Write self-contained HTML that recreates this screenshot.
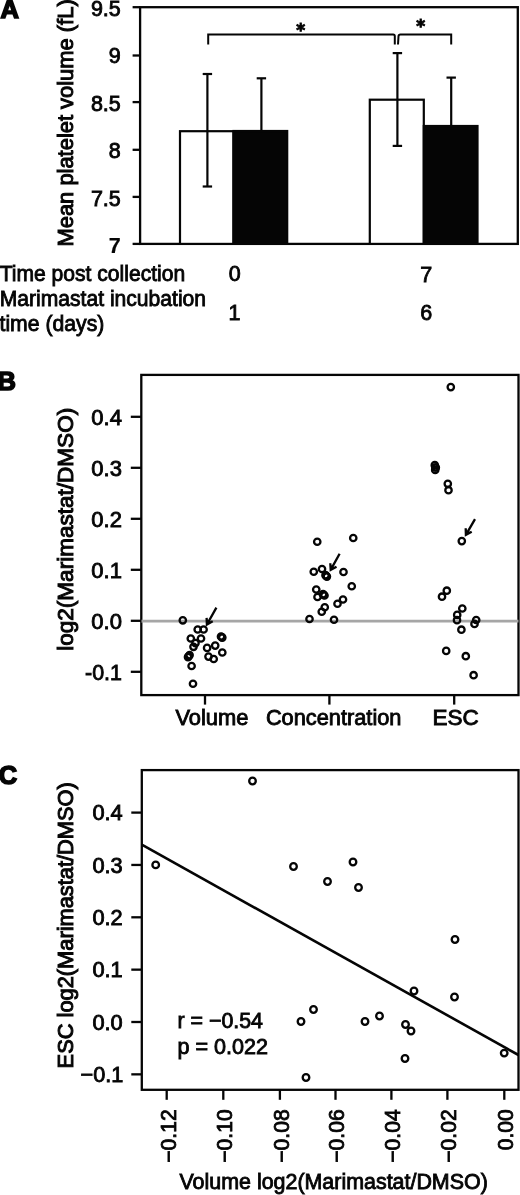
<!DOCTYPE html>
<html><head><meta charset="utf-8"><title>Figure</title>
<style>
html,body{margin:0;padding:0;background:#fff;}
svg{display:block;}
text{font-family:"Liberation Sans",sans-serif;fill:#050505;stroke:#050505;stroke-width:0.85;}
.ln{stroke:#050505;fill:none;}
.pt{stroke:#050505;fill:none;stroke-width:2.3;}
</style></head><body>
<svg width="520" height="1195" viewBox="0 0 520 1195">
<rect x="0" y="0" width="520" height="1195" fill="#fff"/>

<!-- Panel A -->
<text x="0.5" y="18.0" font-size="25.5" text-anchor="start" font-weight="bold" style="stroke-width:1.6">A</text>
<rect x="140.1" y="7.2" width="377.69999999999993" height="236.70000000000002" class="ln" stroke-width="2.3"/>
<line x1="132.6" y1="7.2" x2="140.1" y2="7.2" stroke="#050505" stroke-width="2.3"/>
<text x="120.8" y="15.7" font-size="21.5" text-anchor="end">9.5</text>
<line x1="132.6" y1="55.5" x2="140.1" y2="55.5" stroke="#050505" stroke-width="2.3"/>
<text x="120.8" y="63.1" font-size="21.5" text-anchor="end">9</text>
<line x1="132.6" y1="102.1" x2="140.1" y2="102.1" stroke="#050505" stroke-width="2.3"/>
<text x="120.8" y="111" font-size="21.5" text-anchor="end">8.5</text>
<line x1="132.6" y1="149.8" x2="140.1" y2="149.8" stroke="#050505" stroke-width="2.3"/>
<text x="120.8" y="157.8" font-size="21.5" text-anchor="end">8</text>
<line x1="132.6" y1="196.9" x2="140.1" y2="196.9" stroke="#050505" stroke-width="2.3"/>
<text x="120.8" y="205.7" font-size="21.5" text-anchor="end">7.5</text>
<line x1="132.6" y1="243.9" x2="140.1" y2="243.9" stroke="#050505" stroke-width="2.3"/>
<text x="120.8" y="252.6" font-size="21.5" text-anchor="end" font-weight="bold" style="stroke-width:0.2">7</text>
<text x="73.4" y="246.5" font-size="21.8" text-anchor="start" transform="rotate(-90 73.4 246.5)" textLength="247.2" lengthAdjust="spacingAndGlyphs" style="stroke-width:1.0">Mean platelet volume (fL)</text>
<line x1="261.4" y1="78.3" x2="261.4" y2="180" stroke="#050505" stroke-width="2.2"/>
<line x1="256.7" y1="78.3" x2="266.09999999999997" y2="78.3" stroke="#050505" stroke-width="2.2"/>
<line x1="256.7" y1="180" x2="266.09999999999997" y2="180" stroke="#050505" stroke-width="2.2"/>
<line x1="451.2" y1="77.6" x2="451.2" y2="170" stroke="#050505" stroke-width="2.2"/>
<line x1="446.5" y1="77.6" x2="455.9" y2="77.6" stroke="#050505" stroke-width="2.2"/>
<line x1="446.5" y1="170" x2="455.9" y2="170" stroke="#050505" stroke-width="2.2"/>
<rect x="180" y="131.2" width="53.5" height="112.70000000000002" fill="#fff" stroke="#050505" stroke-width="2.2"/>
<rect x="233.5" y="131" width="53.69999999999999" height="112.9" fill="#050505" stroke="#050505" stroke-width="2.2"/>
<rect x="369.8" y="99.7" width="54.0" height="144.2" fill="#fff" stroke="#050505" stroke-width="2.2"/>
<rect x="423.8" y="126" width="53.69999999999999" height="117.9" fill="#050505" stroke="#050505" stroke-width="2.2"/>
<line x1="207.4" y1="74.0" x2="207.4" y2="186.5" stroke="#050505" stroke-width="2.2"/>
<line x1="202.70000000000002" y1="74.0" x2="212.1" y2="74.0" stroke="#050505" stroke-width="2.2"/>
<line x1="202.70000000000002" y1="186.5" x2="212.1" y2="186.5" stroke="#050505" stroke-width="2.2"/>
<line x1="397.4" y1="53.1" x2="397.4" y2="145.9" stroke="#050505" stroke-width="2.2"/>
<line x1="392.7" y1="53.1" x2="402.09999999999997" y2="53.1" stroke="#050505" stroke-width="2.2"/>
<line x1="392.7" y1="145.9" x2="402.09999999999997" y2="145.9" stroke="#050505" stroke-width="2.2"/>
<path class="ln" stroke-width="2" d="M208.2 44.5 V34.4 H393.2 Q394.8 34.4 394.8 36 V44.5"/>
<path class="ln" stroke-width="2" d="M398 44.5 L398.5 36.2 Q398.6 34.4 400.4 34.4 H451.2 V44.5"/>
<text x="300.6" y="36.0" font-size="17" text-anchor="middle" font-weight="bold" style="font-family:'DejaVu Sans',sans-serif;stroke-width:0.9">*</text>
<text x="420.7" y="32.2" font-size="17" text-anchor="middle" font-weight="bold" style="font-family:'DejaVu Sans',sans-serif;stroke-width:0.9">*</text>
<text x="-0.3" y="280.7" font-size="21.3" text-anchor="start" textLength="185.5" lengthAdjust="spacingAndGlyphs">Time post collection</text>
<text x="-0.3" y="305.8" font-size="21.3" text-anchor="start" textLength="206.4" lengthAdjust="spacingAndGlyphs">Marimastat incubation</text>
<text x="-0.5" y="330.7" font-size="21.3" text-anchor="start" textLength="104.8" lengthAdjust="spacingAndGlyphs">time (days)</text>
<text x="234.8" y="281.3" font-size="21.5" text-anchor="middle">0</text>
<text x="426.2" y="281.7" font-size="21.5" text-anchor="middle">7</text>
<text x="234.6" y="319.8" font-size="21.5" text-anchor="middle">1</text>
<text x="426.2" y="320.1" font-size="21.5" text-anchor="middle">6</text>
<!-- Panel B -->
<text x="-2.4" y="389.8" font-size="25.5" text-anchor="start" font-weight="bold" style="stroke-width:1.6">B</text>
<rect x="141.3" y="374.9" width="377.2" height="320.20000000000005" class="ln" stroke-width="2.3"/>
<line x1="141.3" y1="621.1" x2="518.5" y2="621.1" stroke="#a6a6a6" stroke-width="2.9"/>
<line x1="130.8" y1="416.79999999999995" x2="141.3" y2="416.79999999999995" stroke="#050505" stroke-width="2.3"/>
<text x="91.3" y="424.99999999999994" font-size="21.3" text-anchor="start" textLength="30.6" lengthAdjust="spacingAndGlyphs">0.4</text>
<line x1="130.8" y1="467.79999999999995" x2="141.3" y2="467.79999999999995" stroke="#050505" stroke-width="2.3"/>
<text x="91.3" y="475.99999999999994" font-size="21.3" text-anchor="start" textLength="30.6" lengthAdjust="spacingAndGlyphs">0.3</text>
<line x1="130.8" y1="518.8" x2="141.3" y2="518.8" stroke="#050505" stroke-width="2.3"/>
<text x="91.3" y="527.0" font-size="21.3" text-anchor="start" textLength="30.6" lengthAdjust="spacingAndGlyphs">0.2</text>
<line x1="130.8" y1="569.8" x2="141.3" y2="569.8" stroke="#050505" stroke-width="2.3"/>
<text x="91.3" y="578.0" font-size="21.3" text-anchor="start" textLength="30.6" lengthAdjust="spacingAndGlyphs">0.1</text>
<line x1="130.8" y1="620.8" x2="141.3" y2="620.8" stroke="#050505" stroke-width="2.3"/>
<text x="91.3" y="629.0" font-size="21.3" text-anchor="start" textLength="30.6" lengthAdjust="spacingAndGlyphs">0.0</text>
<line x1="130.8" y1="671.8" x2="141.3" y2="671.8" stroke="#050505" stroke-width="2.3"/>
<text x="85.0" y="680.0" font-size="21.3" text-anchor="start" textLength="36.9" lengthAdjust="spacingAndGlyphs">-0.1</text>
<text x="73.0" y="650.8" font-size="22" text-anchor="start" transform="rotate(-90 73.0 650.8)" textLength="243" lengthAdjust="spacingAndGlyphs" style="stroke-width:1.0">log2(Marimastat/DMSO)</text>
<line x1="205" y1="695.1" x2="205" y2="704.6" stroke="#050505" stroke-width="2.3"/>
<text x="175.4" y="724.7" font-size="21.3" text-anchor="start" textLength="73" lengthAdjust="spacingAndGlyphs">Volume</text>
<line x1="329.4" y1="695.1" x2="329.4" y2="704.6" stroke="#050505" stroke-width="2.3"/>
<text x="265.9" y="724.7" font-size="21.3" text-anchor="start" textLength="135.6" lengthAdjust="spacingAndGlyphs">Concentration</text>
<line x1="454.2" y1="695.1" x2="454.2" y2="704.6" stroke="#050505" stroke-width="2.3"/>
<text x="432.5" y="724.7" font-size="21.3" text-anchor="start" textLength="46.2" lengthAdjust="spacingAndGlyphs">ESC</text>
<circle cx="182.8" cy="620.3" r="3.2" class="pt"/>
<circle cx="197.7" cy="629.5" r="3.2" class="pt"/>
<circle cx="203.6" cy="629.5" r="3.2" class="pt"/>
<circle cx="190.8" cy="638.5" r="3.2" class="pt"/>
<circle cx="201" cy="638.5" r="3.2" class="pt"/>
<circle cx="195.5" cy="643.1" r="3.2" class="pt"/>
<circle cx="193.5" cy="646.8" r="3.2" class="pt"/>
<circle cx="221.7" cy="637.1" r="3.2" class="pt"/>
<circle cx="221.0" cy="636.5" r="3.2" class="pt"/>
<circle cx="222.3" cy="637.6" r="3.2" class="pt"/>
<circle cx="207.1" cy="647.9" r="3.2" class="pt"/>
<circle cx="215.2" cy="645.6" r="3.2" class="pt"/>
<circle cx="222.3" cy="652.5" r="3.2" class="pt"/>
<circle cx="188.6" cy="656.3" r="3.2" class="pt"/>
<circle cx="189.6" cy="655.1" r="3.2" class="pt"/>
<circle cx="188" cy="657.1" r="3.2" class="pt"/>
<circle cx="208.5" cy="656.6" r="3.2" class="pt"/>
<circle cx="213.7" cy="659" r="3.2" class="pt"/>
<circle cx="191.6" cy="666" r="3.2" class="pt"/>
<circle cx="193" cy="683.75" r="3.2" class="pt"/>
<circle cx="317.25" cy="541.75" r="3.2" class="pt"/>
<circle cx="353.25" cy="538" r="3.2" class="pt"/>
<circle cx="313.75" cy="571.75" r="3.2" class="pt"/>
<circle cx="322" cy="569" r="3.2" class="pt"/>
<circle cx="326.25" cy="576" r="3.2" class="pt"/>
<circle cx="325.5" cy="575.2" r="3.2" class="pt"/>
<circle cx="326.9" cy="576.6" r="3.2" class="pt"/>
<circle cx="343.5" cy="572" r="3.2" class="pt"/>
<circle cx="351.75" cy="586.25" r="3.2" class="pt"/>
<circle cx="316.25" cy="589.5" r="3.2" class="pt"/>
<circle cx="317.5" cy="597" r="3.2" class="pt"/>
<circle cx="323.75" cy="595" r="3.2" class="pt"/>
<circle cx="323.1" cy="594.2" r="3.2" class="pt"/>
<circle cx="324.5" cy="595.5" r="3.2" class="pt"/>
<circle cx="343" cy="599.5" r="3.2" class="pt"/>
<circle cx="337.5" cy="603.75" r="3.2" class="pt"/>
<circle cx="324.75" cy="607.25" r="3.2" class="pt"/>
<circle cx="321.75" cy="611.75" r="3.2" class="pt"/>
<circle cx="309.5" cy="619" r="3.2" class="pt"/>
<circle cx="334" cy="619.75" r="3.2" class="pt"/>
<circle cx="450.8" cy="387.1" r="3.2" class="pt"/>
<circle cx="434.8" cy="465.2" r="3.2" class="pt"/>
<circle cx="435.8" cy="467.5" r="3.2" class="pt"/>
<circle cx="435.2" cy="469.9" r="3.2" class="pt"/>
<circle cx="435.3" cy="467.5" r="3.2" class="pt"/>
<circle cx="447.8" cy="483.8" r="3.2" class="pt"/>
<circle cx="448.5" cy="490.2" r="3.2" class="pt"/>
<circle cx="461.8" cy="541.1" r="3.2" class="pt"/>
<circle cx="446.8" cy="590.7" r="3.2" class="pt"/>
<circle cx="442" cy="596.7" r="3.2" class="pt"/>
<circle cx="462.3" cy="608.5" r="3.2" class="pt"/>
<circle cx="457.2" cy="614.9" r="3.2" class="pt"/>
<circle cx="457" cy="620.2" r="3.2" class="pt"/>
<circle cx="476.2" cy="620" r="3.2" class="pt"/>
<circle cx="474.5" cy="623.9" r="3.2" class="pt"/>
<circle cx="461.4" cy="629.7" r="3.2" class="pt"/>
<circle cx="446.2" cy="650.9" r="3.2" class="pt"/>
<circle cx="465.8" cy="656.2" r="3.2" class="pt"/>
<circle cx="473.6" cy="675.2" r="3.2" class="pt"/>
<path class="ln" stroke-width="2.3" stroke-linejoin="miter" d="M216.4 607.6 L206.9 624.5 M206.6 617.9 L206.9 624.5 L212.7 621.3"/>
<path fill="#050505" d="M206.6 617.9 L206.9 624.5 L212.7 621.3 L208.5 621.7 Z"/>
<path class="ln" stroke-width="2.3" stroke-linejoin="miter" d="M339.6 553.75 L330.7 569.9 M330.3 563.3 L330.7 569.9 L336.5 566.7"/>
<path fill="#050505" d="M330.3 563.3 L330.7 569.9 L336.5 566.7 L332.2 567.1 Z"/>
<path class="ln" stroke-width="2.3" stroke-linejoin="miter" d="M475 519.2 L465.9 534.8 M465.7 528.2 L465.9 534.8 L471.7 531.7"/>
<path fill="#050505" d="M465.7 528.2 L465.9 534.8 L471.7 531.7 L467.5 532.0 Z"/>
<!-- Panel C -->
<text x="-1.3" y="784.2" font-size="25.5" text-anchor="start" font-weight="bold" style="stroke-width:1.6">C</text>
<rect x="141.8" y="770.1" width="376.7" height="319.69999999999993" class="ln" stroke-width="2.3"/>
<line x1="131.3" y1="812.6" x2="141.8" y2="812.6" stroke="#050505" stroke-width="2.3"/>
<text x="92.4" y="820.3000000000001" font-size="21.3" text-anchor="start" textLength="30.3" lengthAdjust="spacingAndGlyphs">0.4</text>
<line x1="131.3" y1="864.95" x2="141.8" y2="864.95" stroke="#050505" stroke-width="2.3"/>
<text x="92.4" y="872.6500000000001" font-size="21.3" text-anchor="start" textLength="30.3" lengthAdjust="spacingAndGlyphs">0.3</text>
<line x1="131.3" y1="917.3" x2="141.8" y2="917.3" stroke="#050505" stroke-width="2.3"/>
<text x="92.4" y="925.0" font-size="21.3" text-anchor="start" textLength="30.3" lengthAdjust="spacingAndGlyphs">0.2</text>
<line x1="131.3" y1="969.65" x2="141.8" y2="969.65" stroke="#050505" stroke-width="2.3"/>
<text x="92.4" y="977.35" font-size="21.3" text-anchor="start" textLength="30.3" lengthAdjust="spacingAndGlyphs">0.1</text>
<line x1="131.3" y1="1022.0" x2="141.8" y2="1022.0" stroke="#050505" stroke-width="2.3"/>
<text x="92.4" y="1029.7" font-size="21.3" text-anchor="start" textLength="30.3" lengthAdjust="spacingAndGlyphs">0.0</text>
<line x1="131.3" y1="1074.35" x2="141.8" y2="1074.35" stroke="#050505" stroke-width="2.3"/>
<text x="80.6" y="1082.05" font-size="21.3" text-anchor="start" textLength="42.8" lengthAdjust="spacingAndGlyphs">−0.1</text>
<text x="72.6" y="1068.4" font-size="21.7" text-anchor="start" transform="rotate(-90 72.6 1068.4)" textLength="286.2" lengthAdjust="spacingAndGlyphs" style="stroke-width:1.0">ESC log2(Marimastat/DMSO)</text>
<line x1="166.7" y1="1089.8" x2="166.7" y2="1099.8" stroke="#050505" stroke-width="2.3"/>
<text x="175.6" y="1109.3" font-size="22.3" text-anchor="end" transform="rotate(-90 175.6 1109.3)" textLength="53.4" lengthAdjust="spacingAndGlyphs">−0.12</text>
<line x1="223.3" y1="1089.8" x2="223.3" y2="1099.8" stroke="#050505" stroke-width="2.3"/>
<text x="232.20000000000002" y="1109.3" font-size="22.3" text-anchor="end" transform="rotate(-90 232.20000000000002 1109.3)" textLength="53.4" lengthAdjust="spacingAndGlyphs">−0.10</text>
<line x1="279.9" y1="1089.8" x2="279.9" y2="1099.8" stroke="#050505" stroke-width="2.3"/>
<text x="288.79999999999995" y="1109.3" font-size="22.3" text-anchor="end" transform="rotate(-90 288.79999999999995 1109.3)" textLength="53.4" lengthAdjust="spacingAndGlyphs">−0.08</text>
<line x1="335.5" y1="1089.8" x2="335.5" y2="1099.8" stroke="#050505" stroke-width="2.3"/>
<text x="344.4" y="1109.3" font-size="22.3" text-anchor="end" transform="rotate(-90 344.4 1109.3)" textLength="53.4" lengthAdjust="spacingAndGlyphs">−0.06</text>
<line x1="391.4" y1="1089.8" x2="391.4" y2="1099.8" stroke="#050505" stroke-width="2.3"/>
<text x="400.29999999999995" y="1109.3" font-size="22.3" text-anchor="end" transform="rotate(-90 400.29999999999995 1109.3)" textLength="53.4" lengthAdjust="spacingAndGlyphs">−0.04</text>
<line x1="447.4" y1="1089.8" x2="447.4" y2="1099.8" stroke="#050505" stroke-width="2.3"/>
<text x="456.29999999999995" y="1109.3" font-size="22.3" text-anchor="end" transform="rotate(-90 456.29999999999995 1109.3)" textLength="53.4" lengthAdjust="spacingAndGlyphs">−0.02</text>
<line x1="504.3" y1="1089.8" x2="504.3" y2="1099.8" stroke="#050505" stroke-width="2.3"/>
<text x="513.2" y="1109.3" font-size="22.3" text-anchor="end" transform="rotate(-90 513.2 1109.3)" textLength="41.0" lengthAdjust="spacingAndGlyphs">0.00</text>
<text x="179.5" y="1188.9" font-size="21.3" text-anchor="start" textLength="308.3" lengthAdjust="spacingAndGlyphs">Volume log2(Marimastat/DMSO)</text>
<line x1="141.8" y1="844.7" x2="518.5" y2="1055.0" stroke="#050505" stroke-width="2.6"/>
<circle cx="252.5" cy="781" r="3.3" class="pt"/>
<circle cx="155.7" cy="864.9" r="3.3" class="pt"/>
<circle cx="293.5" cy="866.5" r="3.3" class="pt"/>
<circle cx="353" cy="862" r="3.3" class="pt"/>
<circle cx="327.5" cy="881.5" r="3.3" class="pt"/>
<circle cx="358.5" cy="887.5" r="3.3" class="pt"/>
<circle cx="455" cy="939.5" r="3.3" class="pt"/>
<circle cx="414" cy="991" r="3.3" class="pt"/>
<circle cx="454.5" cy="997" r="3.3" class="pt"/>
<circle cx="313.5" cy="1009.5" r="3.3" class="pt"/>
<circle cx="301" cy="1021.5" r="3.3" class="pt"/>
<circle cx="365" cy="1021.5" r="3.3" class="pt"/>
<circle cx="379.5" cy="1016" r="3.3" class="pt"/>
<circle cx="405.5" cy="1024.5" r="3.3" class="pt"/>
<circle cx="411" cy="1031" r="3.3" class="pt"/>
<circle cx="405" cy="1058.5" r="3.3" class="pt"/>
<circle cx="306" cy="1077.5" r="3.3" class="pt"/>
<circle cx="504.2" cy="1053.1" r="3.3" class="pt"/>
<text x="177.5" y="1028" font-size="21.4" text-anchor="start" textLength="85.5" lengthAdjust="spacingAndGlyphs">r = −0.54</text>
<text x="177.5" y="1053.8" font-size="21.4" text-anchor="start" textLength="90.5" lengthAdjust="spacingAndGlyphs">p = 0.022</text>
</svg></body></html>
